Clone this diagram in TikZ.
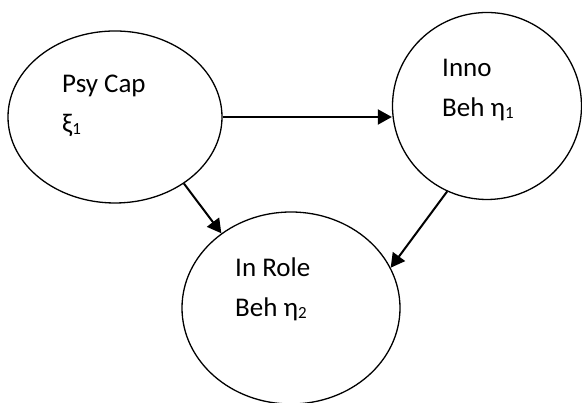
\documentclass[tikz,border=0pt]{standalone}
\usepackage{fontspec}
\setmainfont{Carlito}
\usetikzlibrary{shapes.geometric, arrows.meta, positioning}
\newcommand{\lowidx}[1]{\raisebox{-2pt}{\fontsize{17}{17}\selectfont #1}}

\begin{document}
\begin{tikzpicture}[x=1pt, y=1pt,
    construct/.style={ellipse, draw=black, line width=1.3pt, inner sep=0pt},
    caption/.style={anchor=base west, inner sep=0pt, font=\fontsize{27}{40}\selectfont},
    arrow/.style={-{Triangle[length=14pt, width=15pt]}, black, line width=2pt}
]
\useasboundingbox (0,0) rectangle (582,403);

% Three constructs
\node[construct, minimum width=214pt, minimum height=172pt] (psy) at (115,286) {};
\node[construct, minimum width=189pt, minimum height=187pt] (inno) at (487,297) {};
\node[construct, minimum width=218pt, minimum height=192pt] (inrole) at (291,95) {};

% Labels inside the constructs
\node[caption] (psy-name) at (62,310) {Psy Cap};
\node[caption] (psy-sym) at (62,270) {ξ\lowidx{1}};
\node[caption] (inno-name) at (442,326) {Inno};
\node[caption] (inno-sym) at (442,286) {Beh η\lowidx{1}};
\node[caption] (inrole-name) at (235,126) {In Role};
\node[caption] (inrole-sym) at (235,86) {Beh η\lowidx{2}};

% Paths
\draw[arrow] (psy.east) -- (psy.east -| inno.west);
\draw[arrow] (psy.-44) -- (inrole.133);
\draw[arrow] (inno.245) -- (inrole.22);
\end{tikzpicture}
\end{document}
